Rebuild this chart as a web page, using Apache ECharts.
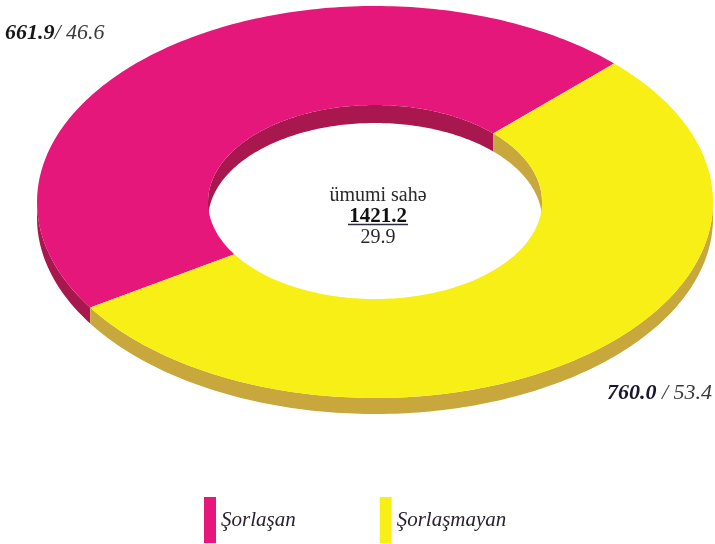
<!DOCTYPE html>
<html>
<head>
<meta charset="utf-8">
<script src="https://cdn.jsdelivr.net/npm/echarts@6/dist/echarts.min.js"></script>
<style>
html, body { margin: 0; padding: 0; background: #fff; }
#container { width: 715px; height: 544px; }
</style>
</head>
<body>
<div id="container"></div>
<script>
var categories = ['Şorlaşan', 'Şorlaşmayan'];
var areas = [661.9, 760.0];
var shares = [46.6, 53.4];
var totalLabel = 'ümumi sahə';
var totalArea = 1421.2;
var totalShare = 29.9;

var topColors = ['#e5177b', '#f8ef16'];
var sideColors = ['#a8174d', '#c8a73c'];

var dom = document.getElementById('container');
var myChart = echarts.init(dom);

// ring geometry (tilted ellipse)
var START = 45, DEPTH = 16;
var CY = 202, OUT_X = 338, OUT_Y = 196, IN_X = 167, IN_Y = 97;
var sum = areas.reduce(function (a, b) { return a + b; }, 0);

function arc(cx, cy, rx, ry, a0, a1, dy) {
    var pts = [], n = Math.max(2, Math.ceil(Math.abs(a1 - a0)));
    for (var i = 0; i <= n; i++) {
        var t = (a0 + (a1 - a0) * i / n) * Math.PI / 180;
        pts.push([cx + rx * Math.cos(t), cy - ry * Math.sin(t) + dy]);
    }
    return pts;
}
function band(cx, cy, rx, ry, a0, a1, h) {
    return arc(cx, cy, rx, ry, a0, a1, 0).concat(arc(cx, cy, rx, ry, a1, a0, h));
}
function overlap(a0, a1, b0, b1) {
    var s = Math.max(a0, b0), e = Math.min(a1, b1);
    return s < e ? [s, e] : null;
}

function renderSlice(idx) {
    return function (params, api) {
        var cx = api.getWidth() * 0.5245;
        var before = 0;
        for (var k = 0; k < idx; k++) before += areas[k];
        var a0 = START + 360 * before / sum;
        var a1 = a0 + 360 * api.value(0) / sum;
        var children = [];
        // front outer wall
        [[180, 360], [540, 720]].forEach(function (r) {
            var o = overlap(a0, a1, r[0], r[1]);
            if (o) children.push({
                type: 'polygon', z2: 1,
                shape: { points: band(cx, CY, OUT_X, OUT_Y, o[0], o[1], DEPTH) },
                style: { fill: sideColors[idx] }
            });
        });
        // back inner wall seen through the hole
        [[0, 180], [360, 540]].forEach(function (r) {
            var o = overlap(a0, a1, r[0], r[1]);
            if (o) children.push({
                type: 'polygon', z2: 1,
                shape: { points: band(cx, CY, IN_X, IN_Y, o[0], o[1], DEPTH + 2) },
                style: { fill: sideColors[idx] }
            });
        });
        // top face
        children.push({
            type: 'polygon', z2: 10,
            shape: { points: arc(cx, CY, OUT_X, OUT_Y, a0, a1, 0).concat(arc(cx, CY, IN_X, IN_Y, a1, a0, 0)) },
            style: { fill: topColors[idx] }
        });
        return { type: 'group', children: children };
    };
}

var serif = "'Liberation Serif', 'DejaVu Serif', serif";
var option = {
    animation: false,
    legend: {
        data: categories,
        selectedMode: false,
        icon: 'rect',
        left: 199,
        top: 492,
        itemWidth: 12,
        itemHeight: 46,
        itemGap: 84,
        textStyle: {
            fontFamily: serif, fontStyle: 'italic', fontSize: 21,
            color: '#2b2030'
        }
    },
    graphic: [{
        type: 'text', left: 5, top: 22,
        style: {
            text: '{v|' + areas[0].toFixed(1) + '}{p|/ ' + shares[0].toFixed(1) + '}',
            rich: {
                v: { fontFamily: serif, fontStyle: 'italic', fontWeight: 'bold', fontSize: 22, fill: '#151515' },
                p: { fontFamily: serif, fontStyle: 'italic', fontSize: 22, fill: '#3a3a3a' }
            }
        }
    }, {
        type: 'text', right: 3, top: 382,
        style: {
            text: '{v|' + areas[1].toFixed(1) + '}{p| / ' + shares[1].toFixed(1) + '}',
            rich: {
                v: { fontFamily: serif, fontStyle: 'italic', fontWeight: 'bold', fontSize: 22, fill: '#1a1530' },
                p: { fontFamily: serif, fontStyle: 'italic', fontSize: 22, fill: '#3a3a3a' }
            }
        }
    }, {
        type: 'text', x: 378, y: 185,
        style: {
            text: totalLabel + '\n{b|' + totalArea.toFixed(1) + '}\n' + totalShare.toFixed(1),
            align: 'center',
            fontFamily: serif, fontSize: 20, lineHeight: 21, fill: '#2a2a2a',
            rich: {
                b: { fontFamily: serif, fontWeight: 'bold', fontSize: 21, lineHeight: 21, fill: '#111' }
            }
        }
    }, {
        type: 'line',
        shape: { x1: 348, y1: 224.5, x2: 408, y2: 224.5 },
        style: { stroke: '#2a2a40', lineWidth: 1.5 }
    }],
    series: categories.map(function (name, i) {
        return {
            type: 'custom',
            name: name,
            coordinateSystem: 'none',
            silent: true,
            itemStyle: { color: topColors[i] },
            data: [[areas[i]]],
            renderItem: renderSlice(i)
        };
    })
};
myChart.setOption(option);
</script>
</body>
</html>
